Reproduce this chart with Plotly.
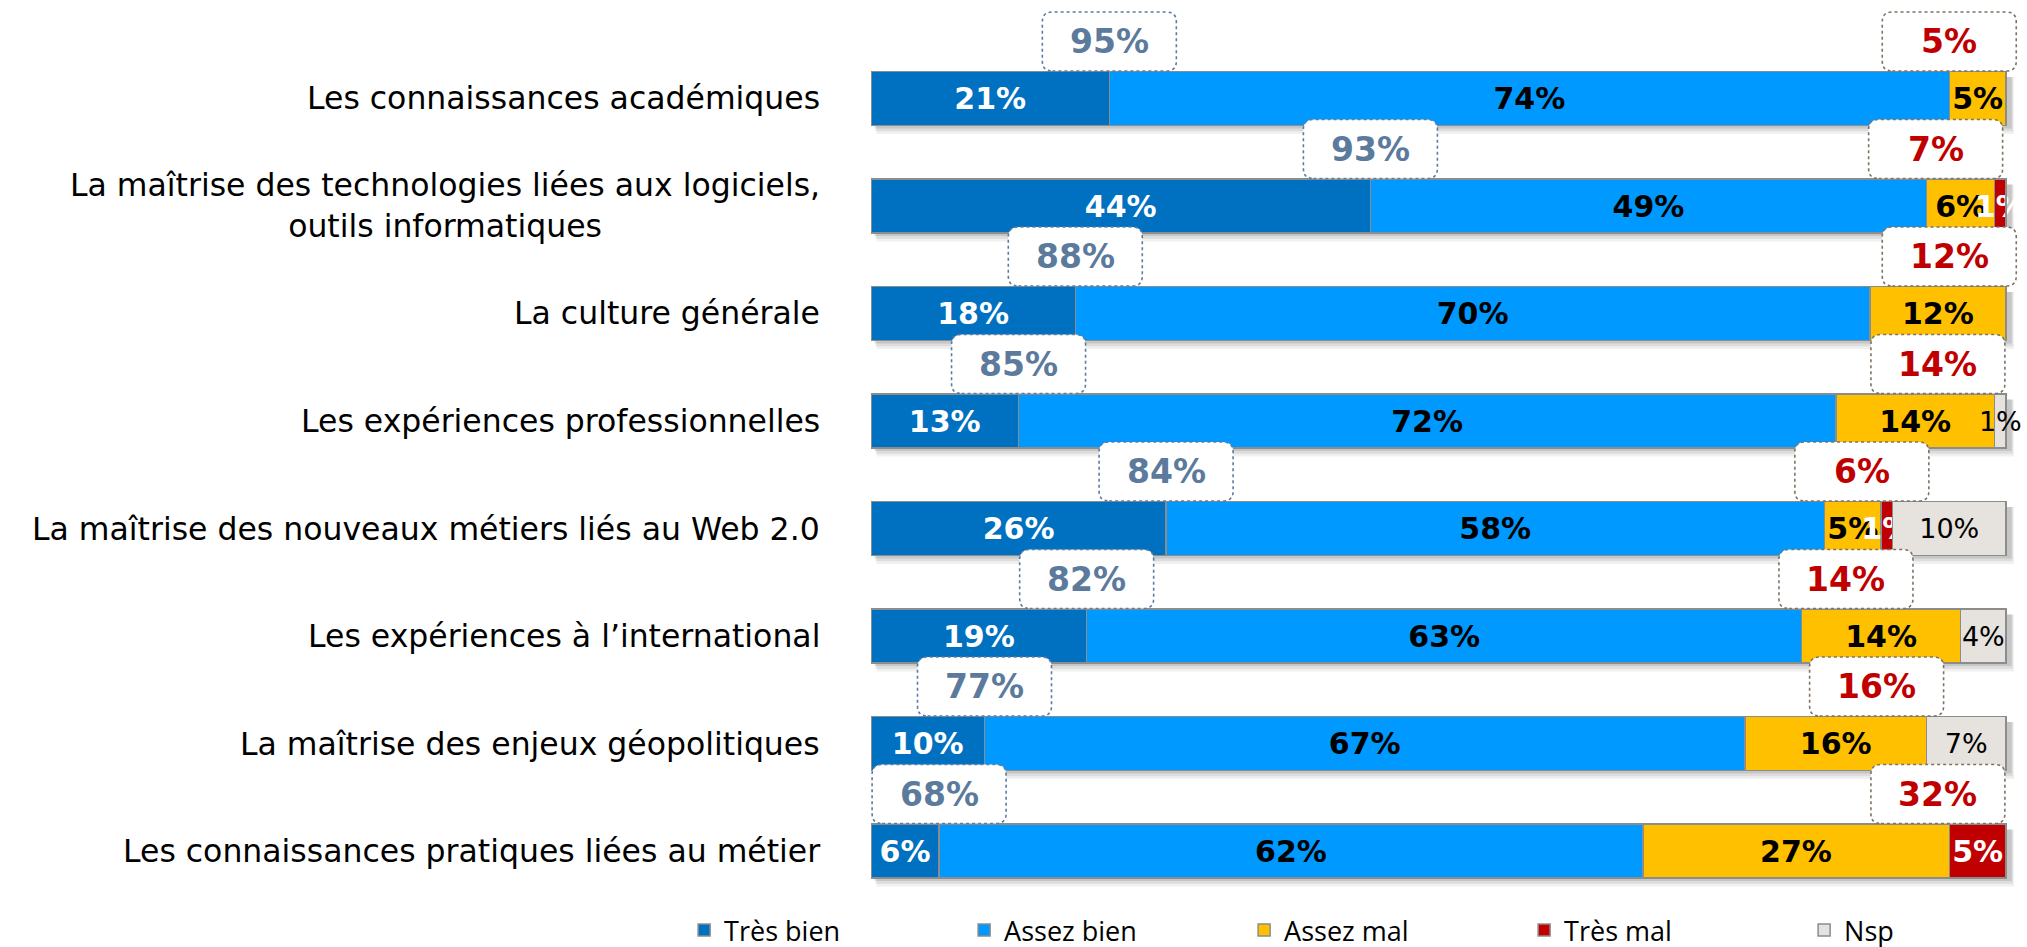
import plotly.graph_objects as go

# ---------------- data ----------------
categories = [
    "Les connaissances académiques",
    "La maîtrise des technologies liées aux logiciels,<br>outils informatiques",
    "La culture générale",
    "Les expériences professionnelles",
    "La maîtrise des nouveaux métiers liés au Web 2.0",
    "Les expériences à l’international",
    "La maîtrise des enjeux géopolitiques",
    "Les connaissances pratiques liées au métier",
]
tres_bien = [21, 44, 18, 13, 26, 19, 10, 6]
assez_bien = [74, 49, 70, 72, 58, 63, 67, 62]
assez_mal = [5, 6, 12, 14, 5, 14, 16, 27]
tres_mal = [0, 1, 0, 0, 1, 0, 0, 5]
nsp = [0, 0, 0, 1, 10, 4, 7, 0]
series_names = ["Très bien", "Assez bien", "Assez mal", "Très mal", "Nsp"]

# ---------------- style ----------------
colors = ["#0070C0", "#0099FF", "#FFC000", "#C00000", "#E6E2DD"]
text_colors = ["white", "black", "black", "white", "black"]
bold = [True, True, True, True, False]
text_sizes = [30, 30, 30, 30, 27]
mal_box_x = [95.0, 93.8, 95.0, 94.0, 87.3, 85.9, 88.6, 94.0]  # label placement (style)

W, H = 2027, 947
ypos = list(range(len(categories)))
series = [tres_bien, assez_bien, assez_mal, tres_mal, nsp]

fig = go.Figure()
for name, vals, col, tc, b, ts in zip(series_names, series, colors, text_colors, bold, text_sizes):
    fig.add_trace(go.Bar(
        name=name, y=ypos, x=vals, orientation="h",
        marker=dict(color=col, line=dict(color="#8C8C8C", width=1.5)),
        text=[f"{v}%" if v > 0 else "" for v in vals],
        textposition="inside", insidetextanchor="middle", constraintext="none",
        textangle=0,
        textfont=dict(color=tc, size=ts,
                      family="DejaVu Sans", weight="bold" if b else "normal"),
        hoverinfo="skip",
    ))

shapes = []
annotations = []
bw, bh, r = 67, 29.5, 10
rrect = (f"M {-bw+r},{-bh} L {bw-r},{-bh} Q {bw},{-bh} {bw},{-bh+r} "
         f"L {bw},{bh-r} Q {bw},{bh} {bw-r},{bh} L {-bw+r},{bh} "
         f"Q {-bw},{bh} {-bw},{bh-r} L {-bw},{-bh+r} Q {-bw},{-bh} {-bw+r},{-bh} Z")

for i, y in enumerate(ypos):
    tot = sum(s[i] for s in series)
    # soft shadow under each bar
    for k, op in enumerate([0.10, 0.08, 0.06]):
        shapes.append(dict(type="rect", xref="x", yref="y", layer="below",
                           x0=0.3 + 0.1 * k, x1=tot + 0.5 + 0.1 * k,
                           y0=y - 0.2, y1=y + 0.28 + 0.025 * k,
                           fillcolor=f"rgba(0,0,0,{op})", line=dict(width=0)))
    bien = tres_bien[i] + assez_bien[i]
    mal = assez_mal[i] + tres_mal[i]
    by = y - 0.53
    for bx, txt, lc, tc in [(tres_bien[i], f"{bien}%", "#5B7BA0", "#5B7A9C"),
                            (mal_box_x[i], f"{mal}%", "#7F7262", "#C00000")]:
        shapes.append(dict(type="path", xref="x", yref="y",
                           xsizemode="pixel", ysizemode="pixel",
                           xanchor=bx, yanchor=by, path=rrect,
                           fillcolor="white", line=dict(color=lc, width=1.6, dash="dot")))
        annotations.append(dict(x=bx, y=by, xref="x", yref="y", text=txt,
                                showarrow=False, xanchor="center", yanchor="middle",
                                font=dict(family="DejaVu Sans", size=33, color=tc,
                                          weight="bold")))
    annotations.append(dict(x=822 / W, y=y, xref="paper", yref="y",
                            text=categories[i], showarrow=False, xanchor="right",
                            yanchor="middle", align="center",
                            font=dict(family="DejaVu Sans", size=31.5, color="black")))

px_per_pct = 1135 / 100
x_left = 871
x_range_max = 101.5
y_center0, pitch = 98.5, 107.5
y_top, y_bot = -0.9, 7.5

fig.update_layout(
    width=W, height=H,
    margin=dict(l=0, r=0, t=0, b=0, autoexpand=False),
    paper_bgcolor="white", plot_bgcolor="white",
    barmode="stack", bargap=0.5,
    xaxis=dict(range=[0, x_range_max], visible=False, fixedrange=True,
               domain=[x_left / W, (x_left + x_range_max * px_per_pct) / W]),
    yaxis=dict(range=[y_bot, y_top], visible=False, fixedrange=True,
               domain=[1 - (y_center0 + y_bot * pitch) / H,
                       1 - (y_center0 + y_top * pitch) / H]),
    shapes=shapes, annotations=annotations,
    showlegend=True,
    legend=dict(orientation="h", x=0.3375, xanchor="left", y=0.0175, yanchor="middle",
                entrywidth=235, entrywidthmode="pixels", traceorder="normal",
                font=dict(family="Open Sans", size=27, color="black"),
                bgcolor="rgba(0,0,0,0)"),
)

fig.write_html("out.html",
               config={"displayModeBar": False},
               post_script="document.body.style.margin='0px';"
                           "document.body.style.overflow='hidden';")
